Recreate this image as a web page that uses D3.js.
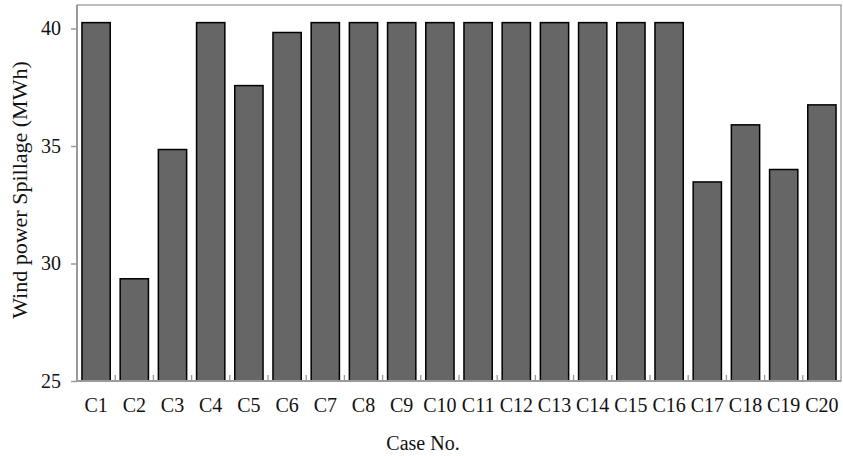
<!DOCTYPE html>
<html>
<head>
<meta charset="utf-8">
<script src="https://cdn.jsdelivr.net/npm/d3@7"></script>
<style>
  html, body { margin: 0; padding: 0; background: #fff; }
  svg { display: block; }
  text { font-family: "Liberation Serif", "Times New Roman", serif; fill: #111; }
</style>
</head>
<body>
<svg id="chart" width="843" height="456"></svg>
<script>
const categories = ["C1","C2","C3","C4","C5","C6","C7","C8","C9","C10","C11","C12","C13","C14","C15","C16","C17","C18","C19","C20"];
const spillage = [40.25, 29.35, 34.85, 40.25, 37.57, 39.83, 40.25, 40.25, 40.25, 40.25, 40.25, 40.25, 40.25, 40.25, 40.25, 40.25, 33.47, 35.9, 34.0, 36.75];
const yTicks = [25, 30, 35, 40];
const yDomain = [25, 41];
const xTitle = "Case No.";
const yTitle = "Wind power Spillage (MWh)";

const svg = d3.select("#chart");
const L = 77, R = 841, T = 5, B = 381;
const axisColor = "#9a9a9a";

const x = d3.scaleBand().domain(categories).range([L, R]).paddingInner(0.26).paddingOuter(0.13);
const y = d3.scaleLinear().domain(yDomain).range([B, T]);

// frame (top/right)
svg.append("rect")
  .attr("x", L).attr("y", T).attr("width", R - L).attr("height", B - T)
  .attr("fill", "none").attr("stroke", axisColor).attr("stroke-width", 1.3);

// bars
svg.append("g").selectAll("rect").data(categories).join("rect")
  .attr("x", d => x(d))
  .attr("width", x.bandwidth())
  .attr("y", (d, i) => y(spillage[i]))
  .attr("height", (d, i) => B - y(spillage[i]))
  .attr("fill", "#666666")
  .attr("stroke", "#000")
  .attr("stroke-width", 1.5);

// category boundary ticks (inside, pointing up)
const step = x.step();
const bounds = d3.range(1, categories.length).map(i => L + i * step);
svg.append("g").selectAll("line").data(bounds).join("line")
  .attr("x1", d => d).attr("x2", d => d)
  .attr("y1", B).attr("y2", B - 6)
  .attr("stroke", axisColor).attr("stroke-width", 1.3);

// left and bottom axis lines
svg.append("line").attr("x1", L).attr("x2", L).attr("y1", T).attr("y2", B + 1)
  .attr("stroke", axisColor).attr("stroke-width", 2);
svg.append("line").attr("x1", L - 1).attr("x2", R).attr("y1", B).attr("y2", B)
  .attr("stroke", axisColor).attr("stroke-width", 2);

// y axis ticks
const yAxis = d3.axisLeft(y).tickValues(yTicks).tickSize(6).tickPadding(10).tickFormat(d3.format("d"));
const gy = svg.append("g").attr("transform", `translate(${L},0)`).call(yAxis);
gy.select(".domain").remove();
gy.selectAll(".tick line").attr("stroke", axisColor).attr("stroke-width", 1.5);
gy.selectAll(".tick text").attr("font-size", 20).attr("fill", "#111");

// x axis labels
const xAxis = d3.axisBottom(x).tickSize(0).tickPadding(17);
const gx = svg.append("g").attr("transform", `translate(0,${B})`).call(xAxis);
gx.select(".domain").remove();
gx.selectAll(".tick text").attr("font-size", 20).attr("fill", "#111");

// titles
svg.append("text").attr("x", 423).attr("y", 450).attr("text-anchor", "middle")
  .attr("font-size", 20).text(xTitle);
svg.append("text").attr("transform", "translate(27,190) rotate(-90)")
  .attr("text-anchor", "middle").attr("font-size", 22).text(yTitle);
</script>
</body>
</html>
